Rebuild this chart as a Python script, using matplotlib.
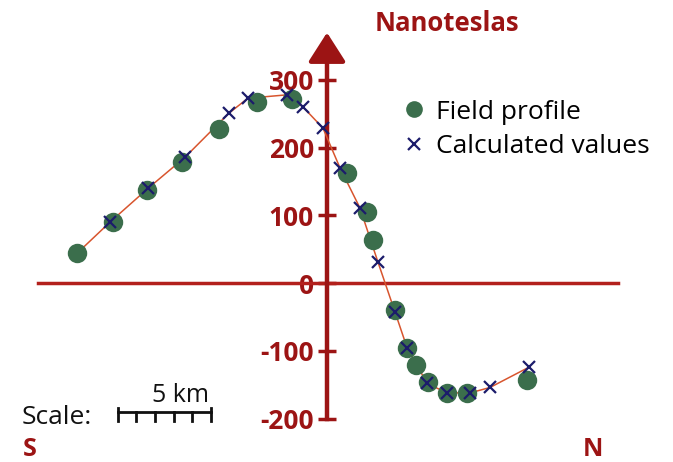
import matplotlib.pyplot as plt
from matplotlib.lines import Line2D

# distance along profile (km, 0 = vertical axis) and field values (nT)
field_km = [-13.44, -11.51, -9.68, -7.80, -5.81, -3.76, -1.88, 1.08, 2.15, 2.47,
            3.66, 4.30, 4.78, 5.43, 6.45, 7.53, 10.75]
field_nt = [44, 90, 137, 179, 228, 267, 272, 162, 105, 64,
            -40, -95, -121, -146, -162, -162, -143]

calc_km = [-11.67, -9.62, -7.63, -5.27, -4.25, -2.15, -1.29, -0.22, 0.70, 1.77,
           2.74, 3.66, 4.30, 5.38, 6.45, 7.69, 8.76, 10.86]
calc_nt = [90, 140, 186, 251, 273, 278, 260, 229, 170, 111,
           31, -43, -95, -148, -162, -162, -154, -124]

yticks = [-200, -100, 0, 100, 200, 300]

dark_red = '#9c1414'
green = '#3b6e4c'
navy = '#1c1c6b'
curve_col = '#d8552e'

plt.rcParams['font.family'] = ['Open Sans', 'DejaVu Sans']
plt.rcParams['axes.unicode_minus'] = False

fig = plt.figure(figsize=(6.73, 4.62), dpi=100)
ax = fig.add_axes([0, 0, 1, 1])
ax.set_xlim(-17.58, 18.6)
ax.set_ylim(-264, 418)

# curve through the calculated values (starting at first field point)
ax.plot([field_km[0]] + calc_km, [field_nt[0]] + calc_nt, color=curve_col, lw=1.1, zorder=3)
ax.plot(field_km, field_nt, 'o', color=green, ms=14, mec='none', zorder=4)
ax.plot(calc_km, calc_nt, 'x', color=navy, ms=9, mew=1.6, zorder=5)

# axes through the origin
for s in ['top', 'right']:
    ax.spines[s].set_visible(False)
ax.spines['left'].set_position(('data', 0))
ax.spines['left'].set_bounds(-200, 345)
ax.spines['left'].set_color(dark_red)
ax.spines['left'].set_linewidth(3.2)
ax.spines['bottom'].set_position(('data', 0))
ax.spines['bottom'].set_bounds(-15.55, 15.65)
ax.spines['bottom'].set_color('#b3201c')
ax.spines['bottom'].set_linewidth(2.5)
ax.spines['bottom'].set_zorder(2)
ax.set_xticks([])
ax.set_yticks(yticks)
ax.tick_params(axis='y', direction='inout', length=13, width=2.5, color=dark_red,
               labelcolor=dark_red, labelsize=19, pad=3)
for lab in ax.get_yticklabels():
    lab.set_fontweight('bold')
ax.annotate('', xy=(0, 374), xytext=(0, 330),
            arrowprops=dict(arrowstyle='-|>,head_length=1.8,head_width=1.15',
                            color=dark_red, lw=3.2))

ax.text(2.55, 384, 'Nanoteslas', color=dark_red, fontsize=18.5, fontweight='bold',
        ha='left', va='center')

handles = [Line2D([], [], marker='o', ls='none', color=green, ms=12, mec='none'),
           Line2D([], [], marker='x', ls='none', color=navy, ms=8, mew=1.6)]
ax.legend(handles, ['Field profile', 'Calculated values'], loc='upper left',
          bbox_to_anchor=(0.56, 0.836), frameon=False, fontsize=19,
          handletextpad=0.35, handlelength=1.0, labelspacing=0.35)

# scale bar: 5 km
ax.text(-16.4, -199, 'Scale:', fontsize=19, color='#111111', ha='left', va='center')
ax.plot([-11.25, -6.25], [-190, -190], color='#111111', lw=2)
for k in range(6):
    top = -184 if k in (0, 5) else -190
    ax.plot([-11.25 + k, -11.25 + k], [top, -203], color='#111111', lw=2)
ax.text(-6.35, -166, '5 km', fontsize=18, color='#111111', ha='right', va='center')

ax.text(-16.0, -246, 'S', color=dark_red, fontsize=18, fontweight='bold', ha='center', va='center')
ax.text(14.3, -246, 'N', color=dark_red, fontsize=18, fontweight='bold', ha='center', va='center')

fig.savefig('out.png', dpi=100)
